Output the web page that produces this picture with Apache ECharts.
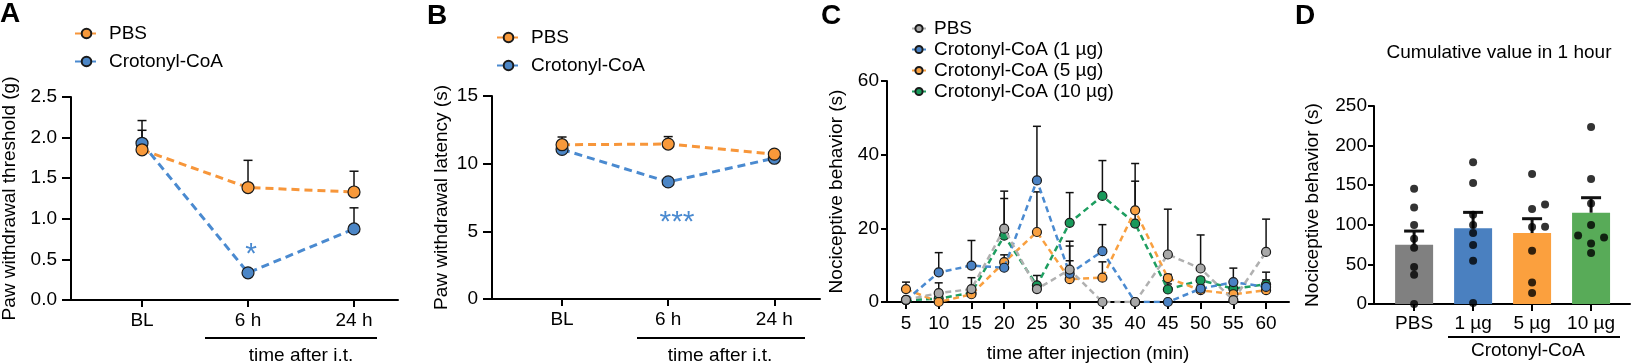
<!DOCTYPE html>
<html><head><meta charset="utf-8">
<script src="https://cdn.jsdelivr.net/npm/echarts@6/dist/echarts.min.js"></script>
<style>html,body{margin:0;padding:0;background:#fff}#c{width:1631px;height:363px}</style>
</head><body><div id="c"></div>
<script>
// ---------- DATA ----------
const catsAB = ['BL', '6 h', '24 h'];
const aPBS = [1.85, 1.385, 1.33];
const aPBSsem = [0.24, 0.335, 0.256];
const aCro = [1.93, 0.335, 0.875];
const aCroSem = [0.28, 0.0, 0.26];

const bPBS = [11.4, 11.45, 10.7];
const bPBSsem = [0.57, 0.55, 0.1];
const bCro = [11.05, 8.65, 10.4];
const bCroSem = [0.2, 0.15, 0.15];

const cTimes = [5, 10, 15, 20, 25, 30, 35, 40, 45, 50, 55, 60];
const cPBS = [0.6, 2.4, 3.5, 19.9, 3.5, 8.8, 0, 0, 12.9, 9.1, 0.5, 13.6];
const cPBSsem = [0.5, 2.8, 3.1, 10.2, 3.7, 7.7, 0, 0, 12.3, 9.1, 0.4, 8.9];
const c1 = [0.5, 8.05, 9.9, 9.3, 33, 7.7, 13.8, 0, 0, 3.6, 5.4, 4.1];
const c1sem = [0.3, 5.35, 6.8, 1.0, 14.7, 7.5, 7.2, 0, 0, 1.0, 3.8, 4.0];
const c5 = [3.5, 0, 2.1, 10.8, 19, 6.2, 6.6, 24.9, 6.5, 3.2, 2.1, 3.2];
const c5sem = [1.9, 0.3, 0.8, 2.0, 10.9, 5.0, 4.3, 12.7, 1.0, 1.0, 0.8, 0.8];
const c10 = [0.5, 0.9, 2.5, 18, 4.5, 21.5, 28.8, 21.3, 3.4, 5.9, 3.6, 4.8];
const c10sem = [0.3, 0.5, 1.0, 10.1, 0.5, 8.2, 9.6, 11.5, 1.5, 0.8, 1.0, 1.2];

const dCats = ['PBS', '1 µg', '5 µg', '10 µg'];
const dMean = [74.9, 95.5, 89.6, 115.3];
const dSem = [17.2, 20.2, 18.1, 18.9];
const dDots = [
  [145.6, 122, 99.7, 82.4, 71, 46.7, 37, 0],
  [179, 152.7, 112.7, 99.7, 89.6, 74.5, 54.7, 1.3],
  [164, 120, 125.6, 97.2, 97.6, 67.3, 27.3, 13.9],
  [223.5, 157.8, 127, 99.7, 86.6, 84.1, 76.5, 64.4]
];
const dJitter = [
  [0, 0, 0, 0, 0, 0, 0, 0],
  [0, 0, 0, 0, 0, 0, 0, 0],
  [0, 0, 0.22, 0, 0.22, 0, 0, 0],
  [0, 0, 0, 0, -0.22, 0.22, 0, 0]
];

// ---------- STYLE ----------
const FONT = 'Liberation Sans';
const FS = 19;
const ORANGE = '#F8993A', BLUE = '#4C86C6';
const C_GRAY = '#A8A8A8', C_BLUE = '#4A82C4', C_ORANGE = '#F9A040', C_GREEN = '#18995A';
const BAR_COLORS = ['#808080', '#4A80C0', '#FBA03E', '#58AB58'];

function xyPairs(xs, ys) { return ys.map((v, i) => [xs[i], v]); }
function errPairs(xs, ys, es) { return ys.map((v, i) => [xs[i], v, es[i]]); }

function errSeries(name, gi, data, lw, cap, z) {
  return {
    type: 'custom', name: name, xAxisIndex: gi, yAxisIndex: gi, z: z || 1, silent: true,
    data: data,
    renderItem: function (params, api) {
      const x = api.value(0), m = api.value(1), e = api.value(2);
      const p0 = api.coord([x, m]), p1 = api.coord([x, m + e]);
      return { type: 'group', children: [
        { type: 'line', shape: { x1: p0[0], y1: p0[1], x2: p1[0], y2: p1[1] }, style: { stroke: '#111', lineWidth: lw } },
        { type: 'line', shape: { x1: p1[0] - cap, y1: p1[1], x2: p1[0] + cap, y2: p1[1] }, style: { stroke: '#111', lineWidth: lw } }
      ]};
    }
  };
}

function lineSeries(name, gi, data, mColor, lColor, size, lw, dash, z) {
  return {
    type: 'line', name: name, xAxisIndex: gi, yAxisIndex: gi, z: z,
    data: data, symbol: 'circle', symbolSize: size,
    itemStyle: { color: mColor, borderColor: '#1a1a1a', borderWidth: 1.2 },
    lineStyle: { color: lColor, width: lw, type: dash },
    emphasis: { disabled: true }
  };
}

const axisLineStyle = { lineStyle: { color: '#000', width: 2 } };
const tickStyle = { lineStyle: { color: '#000', width: 2 } };
const lblStyle = { color: '#000', fontFamily: FONT, fontSize: FS };

function yAxis(gi, max, interval, name, gap, labelMargin, tickLen, fmt) {
  return {
    type: 'value', gridIndex: gi, min: 0, max: max, interval: interval,
    name: name, nameLocation: 'middle', nameGap: gap,
    nameTextStyle: { color: '#000', fontFamily: FONT, fontSize: FS },
    axisLine: Object.assign({ show: true, onZero: false }, axisLineStyle),
    axisTick: { show: true, length: tickLen, lineStyle: tickStyle.lineStyle },
    axisLabel: Object.assign({ margin: labelMargin, formatter: fmt }, lblStyle),
    splitLine: { show: false }
  };
}
function xAxis(gi, min, max, ticks, fmt, margin, extra) {
  return Object.assign({
    type: 'value', gridIndex: gi, min: min, max: max,
    axisLine: Object.assign({ show: true, onZero: false }, axisLineStyle),
    axisTick: { show: true, length: 7, customValues: ticks, lineStyle: tickStyle.lineStyle },
    axisLabel: Object.assign({ margin: margin, customValues: ticks, formatter: fmt }, lblStyle),
    splitLine: { show: false }
  }, extra || {});
}

const idxAB = [0, 1, 2];
const series = [];
// Panel A (grid 0)
series.push(errSeries('eA1', 0, errPairs(idxAB, aPBS, aPBSsem), 1.5, 4.5, 1));
series.push(errSeries('eA2', 0, errPairs(idxAB, aCro, aCroSem), 1.5, 4.5, 1));
series.push(lineSeries('A|Crotonyl-CoA', 0, xyPairs(idxAB, aCro), BLUE, '#4A8AD0', 12, 3, [8, 5], 3));
series.push(lineSeries('A|PBS', 0, xyPairs(idxAB, aPBS), ORANGE, '#F7963A', 12, 3, [8, 5], 4));
// Panel B (grid 1)
series.push(errSeries('eB1', 1, errPairs(idxAB, bPBS, bPBSsem), 1.5, 4.5, 1));
series.push(errSeries('eB2', 1, errPairs(idxAB, bCro, bCroSem), 1.5, 4.5, 1));
series.push(lineSeries('B|Crotonyl-CoA', 1, xyPairs(idxAB, bCro), BLUE, '#4A8AD0', 12, 3, [8, 5], 3));
series.push(lineSeries('B|PBS', 1, xyPairs(idxAB, bPBS), ORANGE, '#F7963A', 12, 3, [8, 5], 4));
// Panel C (grid 2)
series.push(errSeries('eC1', 2, errPairs(cTimes, cPBS, cPBSsem), 1.5, 4, 1));
series.push(errSeries('eC2', 2, errPairs(cTimes, c1, c1sem), 1.5, 4, 1));
series.push(errSeries('eC3', 2, errPairs(cTimes, c5, c5sem), 1.5, 4, 1));
series.push(errSeries('eC4', 2, errPairs(cTimes, c10, c10sem), 1.5, 4, 1));
series.push(lineSeries('C|Crotonyl-CoA (10 µg)', 2, xyPairs(cTimes, c10), C_GREEN, '#1E9E60', 9, 2.5, [6, 4], 3));
series.push(lineSeries('C|Crotonyl-CoA (5 µg)', 2, xyPairs(cTimes, c5), C_ORANGE, '#F9A040', 9, 2.5, [6, 4], 4));
series.push(lineSeries('C|Crotonyl-CoA (1 µg)', 2, xyPairs(cTimes, c1), C_BLUE, '#4A8AD0', 9, 2.5, [6, 4], 5));
series.push(lineSeries('C|PBS', 2, xyPairs(cTimes, cPBS), C_GRAY, '#B0B0B0', 9, 2.5, [6, 4], 6));
// Panel D (grid 3)
series.push({
  type: 'bar', name: 'Dbars', xAxisIndex: 3, yAxisIndex: 3, barWidth: 38, z: 1,
  data: dMean.map((v, i) => ({ value: [i, v], itemStyle: { color: BAR_COLORS[i] } })),
  emphasis: { disabled: true }
});
series.push(errSeries('eD', 3, errPairs([0, 1, 2, 3], dMean, dSem), 3, 10, 2));
const dotData = [];
dDots.forEach((arr, g) => arr.forEach((v, k) => dotData.push([g + dJitter[g][k], v])));
series.push({
  type: 'scatter', name: 'Ddots', xAxisIndex: 3, yAxisIndex: 3, z: 3,
  data: dotData, symbol: 'circle', symbolSize: 8, itemStyle: { color: '#000' },
  emphasis: { disabled: true }
});

const legendFmt = n => n.split('|')[1];
const legTxt = { color: '#000', fontFamily: FONT, fontSize: FS, padding: [0, 0, 0, 6] };

const option = {
  animation: false,
  backgroundColor: '#fff',
  textStyle: { fontFamily: FONT },
  grid: [
    { left: 71, top: 97, width: 327, height: 203, outerBoundsMode: 'none', containLabel: false },
    { left: 492, top: 96, width: 328, height: 203, outerBoundsMode: 'none', containLabel: false },
    { left: 887, top: 81, width: 402, height: 221, outerBoundsMode: 'none', containLabel: false },
    { left: 1374, top: 106, width: 256, height: 198, outerBoundsMode: 'none', containLabel: false }
  ],
  xAxis: [
    xAxis(0, -0.67, 2.415, [0, 1, 2], v => catsAB[Math.round(v)], 11),
    xAxis(1, -0.66, 2.43, [0, 1, 2], v => catsAB[Math.round(v)], 11),
    xAxis(2, 2.1, 63.5, cTimes, v => String(v), 12, {
      name: 'time after injection (min)', nameLocation: 'middle', nameGap: 42,
      nameTextStyle: { color: '#000', fontFamily: FONT, fontSize: FS } }),
    xAxis(3, -0.68, 3.66, [0, 1, 2, 3], v => dCats[Math.round(v)], 10)
  ],
  yAxis: [
    yAxis(0, 2.5, 0.5, 'Paw withdrawal threshold (g)', 52, 14, 9, v => v.toFixed(1)),
    yAxis(1, 15, 5, 'Paw withdrawal latency (s)', 41, 14, 9, v => String(v)),
    yAxis(2, 60, 20, 'Nociceptive behavior (s)', 41, 8, 6, v => String(v)),
    yAxis(3, 250, 50, 'Nociceptive behavior (s)', 52, 7, 6, v => String(v))
  ],
  legend: [
    { orient: 'vertical', left: 74, top: 24, padding: 0, itemWidth: 23, itemHeight: 12, itemGap: 9,
      data: ['A|PBS', 'A|Crotonyl-CoA'], formatter: legendFmt, textStyle: legTxt, selectedMode: false },
    { orient: 'vertical', left: 496, top: 28, padding: 0, itemWidth: 23, itemHeight: 12, itemGap: 9,
      data: ['B|PBS', 'B|Crotonyl-CoA'], formatter: legendFmt, textStyle: legTxt, selectedMode: false },
    { orient: 'vertical', left: 911, top: 19, padding: 0, itemWidth: 14, itemHeight: 9, itemGap: 2,
      data: ['C|PBS', 'C|Crotonyl-CoA (1 µg)', 'C|Crotonyl-CoA (5 µg)', 'C|Crotonyl-CoA (10 µg)'],
      formatter: legendFmt, textStyle: Object.assign({}, legTxt, { padding: [0, 0, 0, 3] }), selectedMode: false }
  ],
  graphic: [
    { type: 'text', left: 0, top: 0, style: { text: 'A', font: 'bold 28px "Liberation Sans"', fill: '#000' } },
    { type: 'text', left: 427, top: 2, style: { text: 'B', font: 'bold 28px "Liberation Sans"', fill: '#000' } },
    { type: 'text', left: 821, top: 2, style: { text: 'C', font: 'bold 28px "Liberation Sans"', fill: '#000' } },
    { type: 'text', left: 1295, top: 2, style: { text: 'D', font: 'bold 28px "Liberation Sans"', fill: '#000' } },
    { type: 'text', x: 251, y: 240, style: { text: '*', font: '30px "Liberation Sans"', fill: '#4A8AD0', align: 'center', verticalAlign: 'top' } },
    { type: 'text', x: 677, y: 208, style: { text: '***', font: '30px "Liberation Sans"', fill: '#4A8AD0', align: 'center', verticalAlign: 'top' } },
    { type: 'line', shape: { x1: 205, y1: 338, x2: 377, y2: 338 }, style: { stroke: '#000', lineWidth: 2 } },
    { type: 'line', shape: { x1: 637, y1: 338, x2: 805, y2: 338 }, style: { stroke: '#000', lineWidth: 2 } },
    { type: 'line', shape: { x1: 1448, y1: 337, x2: 1620, y2: 337 }, style: { stroke: '#000', lineWidth: 2 } },
    { type: 'text', x: 301, y: 346, style: { text: 'time after i.t.', font: FS + 'px "Liberation Sans"', fill: '#000', align: 'center', verticalAlign: 'top' } },
    { type: 'text', x: 720, y: 346, style: { text: 'time after i.t.', font: FS + 'px "Liberation Sans"', fill: '#000', align: 'center', verticalAlign: 'top' } },
    { type: 'text', x: 1528, y: 341, style: { text: 'Crotonyl-CoA', font: FS + 'px "Liberation Sans"', fill: '#000', align: 'center', verticalAlign: 'top' } },
    { type: 'text', x: 1499, y: 43, style: { text: 'Cumulative value in 1 hour', font: FS + 'px "Liberation Sans"', fill: '#000', align: 'center', verticalAlign: 'top' } }
  ],
  series: series
};

const chart = echarts.init(document.getElementById('c'), null, { renderer: 'canvas' });
chart.setOption(option);
</script></body></html>
